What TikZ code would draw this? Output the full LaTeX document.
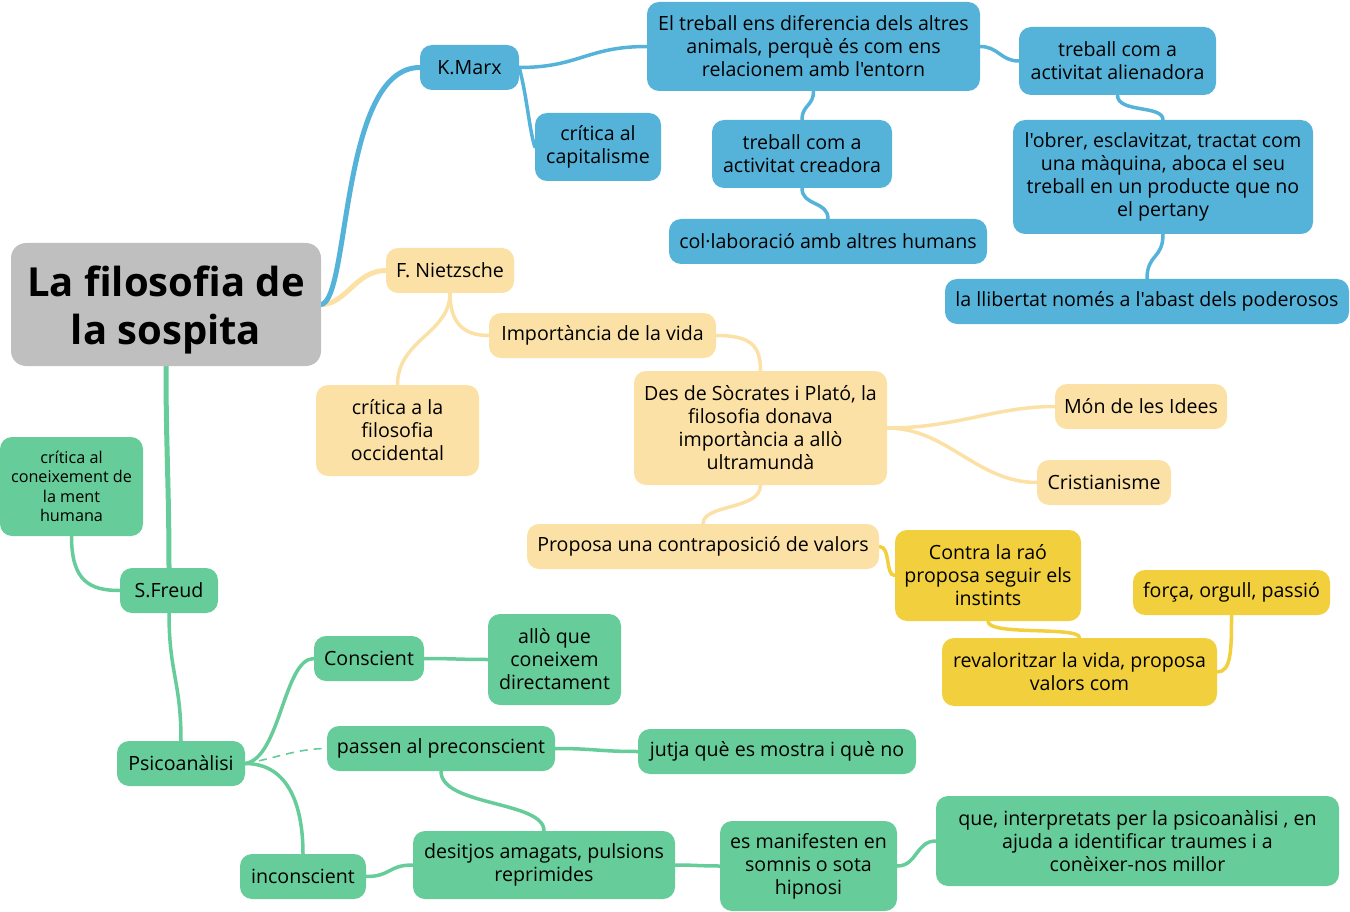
\documentclass[tikz,border=0pt]{standalone}
\usepackage{fontspec}
\setmainfont{Open Sans}[Ligatures=TeXOff]
\usetikzlibrary{backgrounds}
\definecolor{cblue}{HTML}{55B3DA}
\definecolor{cyel}{HTML}{FBE1A5}
\definecolor{cgold}{HTML}{F2CF3C}
\definecolor{cgreen}{HTML}{66CC99}
\definecolor{cgray}{HTML}{BFBFBF}
\tikzset{
  box/.style={rounded corners=12pt, inner sep=0pt, align=center, text=black,
    font=\fontsize{19.6}{23}\selectfont},
  bluebox/.style={box, fill=cblue},
  yelbox/.style={box, fill=cyel},
  goldbox/.style={box, fill=cgold},
  greenbox/.style={box, fill=cgreen},
  link/.style={line width=3.5pt, line cap=round},
  mainlink/.style={line width=5pt, line cap=round},
}
\begin{document}
\begin{tikzpicture}[x=1pt,y=-1pt]
\useasboundingbox (0,0) rectangle (1350,912);
% root
\node[box, fill=cgray, rounded corners=15pt, minimum width=310pt, minimum height=123pt,
  font=\fontsize{40}{48}\selectfont\bfseries] (root) at (166,304.5) {\rule{0pt}{42pt}La filosofia de\\la sospita};
% Marx branch
\node[bluebox, minimum width=99pt, minimum height=45pt] (kmarx) at (469.5,67.5) {K.Marx};
\node[bluebox, minimum width=126pt, minimum height=68pt] (capital) at (598,147) {crítica al\\capitalisme};
\node[bluebox, minimum width=333pt, minimum height=89pt] (treball) at (813.5,46.5) {El treball ens diferencia dels altres\\animals, perquè és com ens\\relacionem amb l'entorn};
\node[bluebox, minimum width=197pt, minimum height=68pt] (alien) at (1117.5,61) {treball com a\\activitat alienadora};
\node[bluebox, minimum width=180pt, minimum height=68pt] (creadora) at (802,154) {treball com a\\activitat creadora};
\node[bluebox, minimum width=318pt, minimum height=45pt] (colab) at (828,241.5) {col·laboració amb altres humans};
\node[bluebox, minimum width=300pt, minimum height=114pt] (obrer) at (1163,177) {l'obrer, esclavitzat, tractat com\\una màquina, aboca el seu\\treball en un producte que no\\el pertany};
\node[bluebox, minimum width=404pt, minimum height=45pt] (llibertat) at (1147,301.5) {la llibertat només a l'abast dels poderosos};
% Nietzsche branch
\node[yelbox, minimum width=128pt, minimum height=45pt] (nietz) at (450,270.5) {F. Nietzsche};
\node[yelbox, minimum width=163pt, minimum height=91pt] (critfil) at (397.5,430.5) {crítica a la\\filosofia\\occidental};
\node[yelbox, minimum width=227pt, minimum height=45pt] (import) at (602.5,335.5) {Importància de la vida};
\node[yelbox, minimum width=253pt, minimum height=114pt] (socrates) at (760.5,428) {Des de Sòcrates i Plató, la\\filosofia donava\\importància a allò\\ultramundà};
\node[yelbox, minimum width=172pt, minimum height=45pt] (mon) at (1141,406.5) {Món de les Idees};
\node[yelbox, minimum width=134pt, minimum height=45pt] (crist) at (1104,482.5) {Cristianisme};
\node[yelbox, minimum width=352pt, minimum height=45pt] (proposa) at (703,546.5) {Proposa una contraposició de valors};
\node[goldbox, minimum width=186pt, minimum height=91pt] (contra) at (988,575.5) {Contra la raó\\proposa seguir els\\instints};
\node[goldbox, minimum width=197pt, minimum height=45pt] (forca) at (1231.5,592.5) {força, orgull, passió};
\node[goldbox, minimum width=275pt, minimum height=68pt] (revalor) at (1079.5,672) {revaloritzar la vida, proposa\\valors com};
% Freud branch
\node[greenbox, minimum width=98pt, minimum height=45pt] (freud) at (169,590.5) {S.Freud};
\node[greenbox, minimum width=143pt, minimum height=99pt, font=\fontsize{16.2}{19.5}\selectfont] (critment) at (71.5,486.5) {crítica al\\coneixement de\\la ment\\humana};
\node[greenbox, minimum width=128pt, minimum height=45pt] (psico) at (181,763.5) {Psicoanàlisi};
\node[greenbox, minimum width=110pt, minimum height=45pt] (consc) at (369,658.5) {Conscient};
\node[greenbox, minimum width=133pt, minimum height=91pt] (allo) at (554.5,659.5) {allò que\\coneixem\\directament};
\node[greenbox, minimum width=228pt, minimum height=45pt] (precon) at (441,748.5) {passen al preconscient};
\node[greenbox, minimum width=278pt, minimum height=45pt] (jutja) at (777,751.5) {jutja què es mostra i què no};
\node[greenbox, minimum width=126pt, minimum height=45pt] (incon) at (303,876.5) {inconscient};
\node[greenbox, minimum width=262pt, minimum height=68pt] (desit) at (544,865) {desitjos amagats, pulsions\\reprimides};
\node[greenbox, minimum width=177pt, minimum height=90pt] (manif) at (808.5,866) {es manifesten en\\somnis o sota\\hipnosi};
\node[greenbox, minimum width=403pt, minimum height=90pt] (que) at (1137.5,841) {que, interpretats per la psicoanàlisi , en\\ajuda a identificar traumes i a\\conèixer-nos millor};
% connectors
\begin{pgfonlayer}{background}
\draw[mainlink, cyel] (root.east) .. controls +(25,0) and +(-30,0) .. (nietz.west);
\draw[mainlink, cblue] (root.east) .. controls +(29,-5) and +(-80,0) .. (kmarx.west);
\draw[link, cblue] (kmarx.east) .. controls +(60,0) and +(-60,0) .. (treball.west);
\draw[link, cblue] (kmarx.east) .. controls +(8,30) and +(-6,-20) .. (capital.west);
\draw[link, cblue] (treball.east) .. controls +(18,0) and +(-18,0) .. (alien.west);
\draw[link, cblue] (treball.south) .. controls +(0,15) and +(0,-15) .. (creadora.north);
\draw[link, cblue] (creadora.south) .. controls +(0,18) and +(0,-18) .. (colab.north);
\draw[link, cblue] (alien.south) .. controls +(0,18) and +(0,-15) .. (obrer.north);
\draw[link, cblue] (obrer.south) .. controls +(0,25) and +(0,-25) .. (llibertat.north);
\draw[link, cyel] (nietz.south) .. controls +(0,40) and +(0,-45) .. (critfil.north);
\draw[link, cyel] (nietz.south) .. controls +(0,30) and +(-25,0) .. (import.west);
\draw[link, cyel] (import.east) .. controls +(35,0) and +(0,-25) .. (socrates.north);
\draw[link, cyel] (socrates.east) .. controls +(70,0) and +(-60,0) .. (mon.west);
\draw[link, cyel] (socrates.east) .. controls +(60,0) and +(-60,0) .. (crist.west);
\draw[link, cyel] (socrates.south) .. controls +(0,25) and +(0,-20) .. (proposa.north);
\draw[link, cgold] (proposa.east) .. controls +(12,0) and +(-10,0) .. (contra.west);
\draw[link, cgold] (contra.south) .. controls +(0,15) and +(0,-12) .. (revalor.north);
\draw[link, cgold] (revalor.east) .. controls +(14,0) and +(0,35) .. (forca.south);
\draw[mainlink, cgreen] (root.south) .. controls +(0,80) and +(0,-80) .. (freud.north);
\draw[link, cgreen] (critment.south) .. controls +(0,45) and +(-30,0) .. (freud.west);
\draw[link, cgreen] (freud.south) .. controls +(0,60) and +(0,-60) .. (psico.north);
\draw[link, cgreen] (psico.east) .. controls +(35,-5) and +(-30,0) .. (consc.west);
\draw[cgreen, line width=1.6pt, dash pattern=on 8pt off 6pt] (psico.east) .. controls +(30,-5) and +(-30,0) .. (precon.west);
\draw[link, cgreen] (psico.east) .. controls +(45,0) and +(0,-45) .. (incon.north);
\draw[link, cgreen] (consc.east) .. controls +(30,0) and +(-30,0) .. (allo.west);
\draw[link, cgreen] (precon.east) .. controls +(40,0) and +(-40,0) .. (jutja.west);
\draw[link, cgreen] (precon.south) .. controls +(0,35) and +(0,-30) .. (desit.north);
\draw[link, cgreen] (incon.east) .. controls +(25,0) and +(-25,0) .. (desit.west);
\draw[link, cgreen] (desit.east) .. controls +(20,0) and +(-20,0) .. (manif.west);
\draw[link, cgreen] (manif.east) .. controls +(20,0) and +(-20,0) .. (que.west);
\end{pgfonlayer}
\end{tikzpicture}
\end{document}
